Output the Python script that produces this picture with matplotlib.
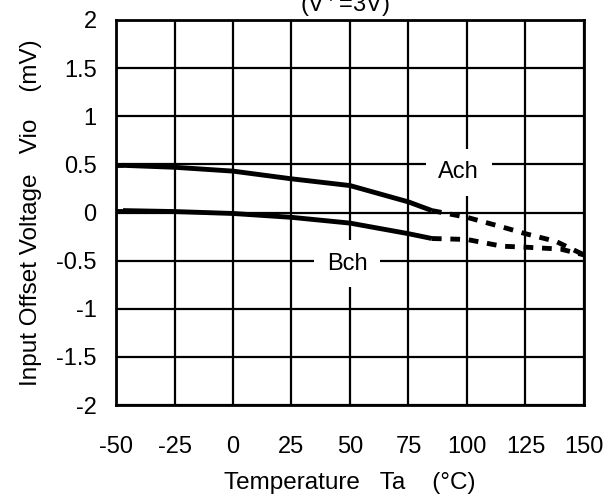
import matplotlib
matplotlib.use('Agg')
import matplotlib.pyplot as plt
import numpy as np

plt.rcParams['font.family'] = ['Liberation Sans', 'DejaVu Sans']

# Data (Vio vs temperature, V+=3V)
ach_temp = [-47, -25, 0, 25, 50, 75, 85]
ach_vio = [0.49, 0.47, 0.43, 0.35, 0.28, 0.11, 0.02]
ach_ext_temp = [85, 100, 115, 125, 138, 150]
ach_ext_vio = [0.02, -0.05, -0.15, -0.22, -0.30, -0.44]
ach_start_temp = [-50, -47]
ach_start_vio = [0.49, 0.49]

bch_temp = [-47, -25, 0, 25, 50, 75, 85]
bch_vio = [0.02, 0.01, -0.01, -0.05, -0.11, -0.22, -0.27]
bch_ext_temp = [85, 100, 115, 125, 140, 150]
bch_ext_vio = [-0.27, -0.28, -0.35, -0.36, -0.38, -0.44]
bch_start_temp = [-50, -47]
bch_start_vio = [0.02, 0.02]

x_ticks = [-50, -25, 0, 25, 50, 75, 100, 125, 150]
y_ticks = [-2, -1.5, -1, -0.5, 0, 0.5, 1, 1.5, 2]

fig = plt.figure(figsize=(6.08, 4.97), dpi=100)
ax = fig.add_axes([0.1908, 0.185, 0.7697, 0.7748])

lw = 3.5
for t, v in [(ach_temp, ach_vio), (bch_temp, bch_vio)]:
    ax.plot(t, v, color='black', lw=lw, solid_capstyle='butt', zorder=4)
for t, v in [(ach_ext_temp, ach_ext_vio), (bch_ext_temp, bch_ext_vio),
             (ach_start_temp, ach_start_vio), (bch_start_temp, bch_start_vio)]:
    ax.plot(t, v, color='black', lw=lw, linestyle=(0, (2, 1.8)),
            dash_capstyle='butt', zorder=4)

ax.set_xlim(-50, 150)
ax.set_ylim(-2, 2)
ax.set_xticks(x_ticks)
ax.set_yticks(y_ticks)
ax.set_xticklabels([str(x) for x in x_ticks])
ax.set_yticklabels(['-2', '-1.5', '-1', '-0.5', '0', '0.5', '1', '1.5', '2'])
ax.tick_params(length=0, labelsize=17)
ax.tick_params(axis='x', pad=22)
ax.tick_params(axis='y', pad=14)
ax.grid(True, color='black', lw=1.6)
for s in ax.spines.values():
    s.set_linewidth(2)

ax.text(96.5, 0.42, 'Ach', fontsize=17, ha='center', va='center', zorder=3,
        bbox=dict(facecolor='white', edgecolor='none', pad=9))
ax.text(48.7, -0.53, 'Bch', fontsize=17, ha='center', va='center', zorder=3,
        bbox=dict(facecolor='white', edgecolor='none', pad=9))

ax.set_xlabel('Temperature   Ta    (°C)', fontsize=17.5)
ax.set_ylabel('Input Offset Voltage   Vio    (mV)', fontsize=17.5)
ax.xaxis.set_label_coords(0.5, -0.175)
ax.yaxis.set_label_coords(-0.159, 0.5)

fig.text(0.567, 0.977, '(V$^{+}$=3V)', fontsize=17, ha='center', va='baseline')

fig.savefig('out.png', dpi=100)
